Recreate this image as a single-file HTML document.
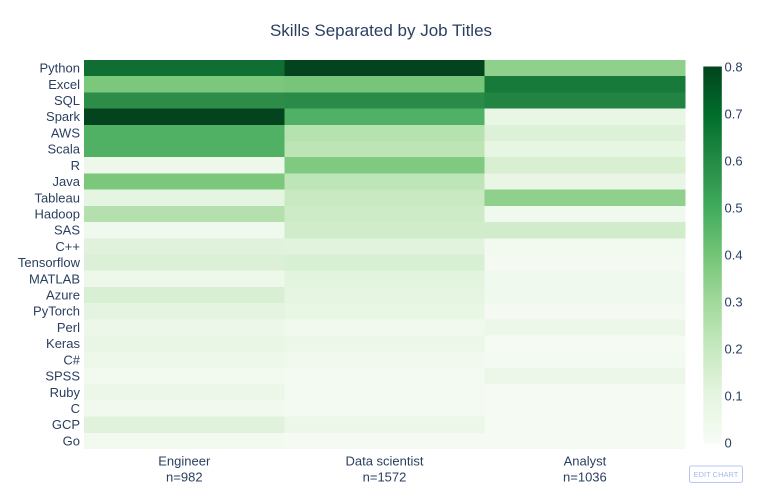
<!DOCTYPE html>
<html><head><meta charset="utf-8"><style>
html,body{margin:0;padding:0;background:#fff;}
svg{display:block;}
text{font-family:"Liberation Sans",Arial,sans-serif;fill:#2a3f5f;}
</style></head><body>
<svg width="768" height="498" viewBox="0 0 768 498" xmlns="http://www.w3.org/2000/svg">
<defs>
<linearGradient id="cb" x1="0" y1="1" x2="0" y2="0">
<stop offset="0" stop-color="rgb(247,252,245)"/>
<stop offset="0.125" stop-color="rgb(229,245,224)"/>
<stop offset="0.25" stop-color="rgb(199,233,192)"/>
<stop offset="0.375" stop-color="rgb(161,217,155)"/>
<stop offset="0.5" stop-color="rgb(116,196,118)"/>
<stop offset="0.625" stop-color="rgb(65,171,93)"/>
<stop offset="0.75" stop-color="rgb(35,139,69)"/>
<stop offset="0.875" stop-color="rgb(0,109,44)"/>
<stop offset="1" stop-color="rgb(0,68,27)"/>
</linearGradient>
</defs>
<rect width="768" height="498" fill="#fff"/>
<text x="381" y="36" font-size="17" text-anchor="middle">Skills Separated by Job Titles</text>

<g shape-rendering="crispEdges">
<!-- Engineer column -->
<rect x="84" y="60.0" width="200.6" height="16.5" fill="rgb(16,110,50)"/>
<rect x="84" y="76.2" width="200.6" height="16.5" fill="rgb(123,199,124)"/>
<rect x="84" y="92.4" width="200.6" height="16.5" fill="rgb(44,140,72)"/>
<rect x="84" y="108.6" width="200.6" height="16.5" fill="rgb(3,68,30)"/>
<rect x="84" y="124.8" width="200.6" height="16.5" fill="rgb(80,176,100)"/>
<rect x="84" y="141.0" width="200.6" height="16.5" fill="rgb(80,176,100)"/>
<rect x="84" y="157.2" width="200.6" height="16.5" fill="rgb(237,247,234)"/>
<rect x="84" y="173.5" width="200.6" height="16.5" fill="rgb(123,199,124)"/>
<rect x="84" y="189.7" width="200.6" height="16.5" fill="rgb(230,245,226)"/>
<rect x="84" y="205.9" width="200.6" height="16.5" fill="rgb(179,224,172)"/>
<rect x="84" y="222.1" width="200.6" height="16.5" fill="rgb(240,249,238)"/>
<rect x="84" y="238.3" width="200.6" height="16.5" fill="rgb(224,242,219)"/>
<rect x="84" y="254.5" width="200.6" height="16.5" fill="rgb(219,240,214)"/>
<rect x="84" y="270.7" width="200.6" height="16.5" fill="rgb(237,247,234)"/>
<rect x="84" y="286.9" width="200.6" height="16.5" fill="rgb(216,239,211)"/>
<rect x="84" y="303.1" width="200.6" height="16.5" fill="rgb(229,244,225)"/>
<rect x="84" y="319.3" width="200.6" height="16.5" fill="rgb(236,247,233)"/>
<rect x="84" y="335.5" width="200.6" height="16.5" fill="rgb(233,246,229)"/>
<rect x="84" y="351.7" width="200.6" height="16.5" fill="rgb(237,248,234)"/>
<rect x="84" y="368.0" width="200.6" height="16.5" fill="rgb(242,250,240)"/>
<rect x="84" y="384.2" width="200.6" height="16.5" fill="rgb(236,247,233)"/>
<rect x="84" y="400.4" width="200.6" height="16.5" fill="rgb(241,249,239)"/>
<rect x="84" y="416.6" width="200.6" height="16.5" fill="rgb(224,242,219)"/>
<rect x="84" y="432.8" width="200.6" height="16.2" fill="rgb(242,250,240)"/>
<!-- Data scientist column -->
<rect x="284.3" y="60.0" width="200.6" height="16.5" fill="rgb(3,68,30)"/>
<rect x="284.3" y="76.2" width="200.6" height="16.5" fill="rgb(118,197,120)"/>
<rect x="284.3" y="92.4" width="200.6" height="16.5" fill="rgb(42,138,72)"/>
<rect x="284.3" y="108.6" width="200.6" height="16.5" fill="rgb(80,176,102)"/>
<rect x="284.3" y="124.8" width="200.6" height="16.5" fill="rgb(182,226,175)"/>
<rect x="284.3" y="141.0" width="200.6" height="16.5" fill="rgb(188,228,181)"/>
<rect x="284.3" y="157.2" width="200.6" height="16.5" fill="rgb(128,201,128)"/>
<rect x="284.3" y="173.5" width="200.6" height="16.5" fill="rgb(190,229,183)"/>
<rect x="284.3" y="189.7" width="200.6" height="16.5" fill="rgb(200,233,194)"/>
<rect x="284.3" y="205.9" width="200.6" height="16.5" fill="rgb(204,235,198)"/>
<rect x="284.3" y="222.1" width="200.6" height="16.5" fill="rgb(208,236,202)"/>
<rect x="284.3" y="238.3" width="200.6" height="16.5" fill="rgb(225,243,220)"/>
<rect x="284.3" y="254.5" width="200.6" height="16.5" fill="rgb(215,239,210)"/>
<rect x="284.3" y="270.7" width="200.6" height="16.5" fill="rgb(226,244,222)"/>
<rect x="284.3" y="286.9" width="200.6" height="16.5" fill="rgb(230,245,226)"/>
<rect x="284.3" y="303.1" width="200.6" height="16.5" fill="rgb(232,246,228)"/>
<rect x="284.3" y="319.3" width="200.6" height="16.5" fill="rgb(241,249,239)"/>
<rect x="284.3" y="335.5" width="200.6" height="16.5" fill="rgb(236,247,233)"/>
<rect x="284.3" y="351.7" width="200.6" height="16.5" fill="rgb(241,249,239)"/>
<rect x="284.3" y="368.0" width="200.6" height="16.5" fill="rgb(243,250,241)"/>
<rect x="284.3" y="384.2" width="200.6" height="16.5" fill="rgb(243,250,241)"/>
<rect x="284.3" y="400.4" width="200.6" height="16.5" fill="rgb(243,250,241)"/>
<rect x="284.3" y="416.6" width="200.6" height="16.5" fill="rgb(236,247,233)"/>
<rect x="284.3" y="432.8" width="200.6" height="16.2" fill="rgb(245,251,243)"/>
<!-- Analyst column -->
<rect x="484.7" y="60.0" width="200.6" height="16.5" fill="rgb(143,209,140)"/>
<rect x="484.7" y="76.2" width="200.6" height="16.5" fill="rgb(24,122,58)"/>
<rect x="484.7" y="92.4" width="200.6" height="16.5" fill="rgb(34,132,66)"/>
<rect x="484.7" y="108.6" width="200.6" height="16.5" fill="rgb(233,246,229)"/>
<rect x="484.7" y="124.8" width="200.6" height="16.5" fill="rgb(220,241,215)"/>
<rect x="484.7" y="141.0" width="200.6" height="16.5" fill="rgb(231,245,227)"/>
<rect x="484.7" y="157.2" width="200.6" height="16.5" fill="rgb(216,239,210)"/>
<rect x="484.7" y="173.5" width="200.6" height="16.5" fill="rgb(233,246,229)"/>
<rect x="484.7" y="189.7" width="200.6" height="16.5" fill="rgb(143,209,140)"/>
<rect x="484.7" y="205.9" width="200.6" height="16.5" fill="rgb(240,249,238)"/>
<rect x="484.7" y="222.1" width="200.6" height="16.5" fill="rgb(208,236,202)"/>
<rect x="484.7" y="238.3" width="200.6" height="16.5" fill="rgb(242,250,240)"/>
<rect x="484.7" y="254.5" width="200.6" height="16.5" fill="rgb(244,250,242)"/>
<rect x="484.7" y="270.7" width="200.6" height="16.5" fill="rgb(240,249,238)"/>
<rect x="484.7" y="286.9" width="200.6" height="16.5" fill="rgb(240,249,238)"/>
<rect x="484.7" y="303.1" width="200.6" height="16.5" fill="rgb(244,250,242)"/>
<rect x="484.7" y="319.3" width="200.6" height="16.5" fill="rgb(236,247,233)"/>
<rect x="484.7" y="335.5" width="200.6" height="16.5" fill="rgb(245,251,243)"/>
<rect x="484.7" y="351.7" width="200.6" height="16.5" fill="rgb(243,250,241)"/>
<rect x="484.7" y="368.0" width="200.6" height="16.5" fill="rgb(236,247,233)"/>
<rect x="484.7" y="384.2" width="200.6" height="16.5" fill="rgb(245,251,243)"/>
<rect x="484.7" y="400.4" width="200.6" height="16.5" fill="rgb(245,251,243)"/>
<rect x="484.7" y="416.6" width="200.6" height="16.5" fill="rgb(245,251,243)"/>
<rect x="484.7" y="432.8" width="200.6" height="16.2" fill="rgb(245,251,243)"/>
</g>

<g font-size="13" text-anchor="end">
<text x="80" y="72.6">Python</text>
<text x="80" y="88.8">Excel</text>
<text x="80" y="105.0">SQL</text>
<text x="80" y="121.2">Spark</text>
<text x="80" y="137.4">AWS</text>
<text x="80" y="153.6">Scala</text>
<text x="80" y="169.8">R</text>
<text x="80" y="186.1">Java</text>
<text x="80" y="202.3">Tableau</text>
<text x="80" y="218.5">Hadoop</text>
<text x="80" y="234.7">SAS</text>
<text x="80" y="250.9">C++</text>
<text x="80" y="267.1">Tensorflow</text>
<text x="80" y="283.3">MATLAB</text>
<text x="80" y="299.5">Azure</text>
<text x="80" y="315.7">PyTorch</text>
<text x="80" y="331.9">Perl</text>
<text x="80" y="348.1">Keras</text>
<text x="80" y="364.3">C#</text>
<text x="80" y="380.6">SPSS</text>
<text x="80" y="396.8">Ruby</text>
<text x="80" y="413.0">C</text>
<text x="80" y="429.2">GCP</text>
<text x="80" y="445.4">Go</text>
</g>

<g font-size="13" text-anchor="middle">
<text x="184.3" y="465.5">Engineer</text>
<text x="184.3" y="481.5">n=982</text>
<text x="384.5" y="465.5">Data scientist</text>
<text x="384.5" y="481.5">n=1572</text>
<text x="584.9" y="465.5">Analyst</text>
<text x="584.9" y="481.5">n=1036</text>
</g>

<rect x="703.3" y="66.5" width="18.5" height="377" fill="url(#cb)"/>
<g font-size="13">
<text x="724.5" y="71.5">0.8</text>
<text x="724.5" y="118.5">0.7</text>
<text x="724.5" y="165.5">0.6</text>
<text x="724.5" y="212.5">0.5</text>
<text x="724.5" y="259.5">0.4</text>
<text x="724.5" y="306.5">0.3</text>
<text x="724.5" y="353.5">0.2</text>
<text x="724.5" y="400.5">0.1</text>
<text x="724.5" y="447.5">0</text>
</g>

<rect x="689.5" y="466" width="53" height="16.5" rx="2" ry="2" fill="#fff" stroke="#b9c6f5" stroke-width="1"/>
<text x="716" y="477" font-size="7.5" text-anchor="middle" style="fill:#a9b9ee">EDIT CHART</text>
</svg>
</body></html>
